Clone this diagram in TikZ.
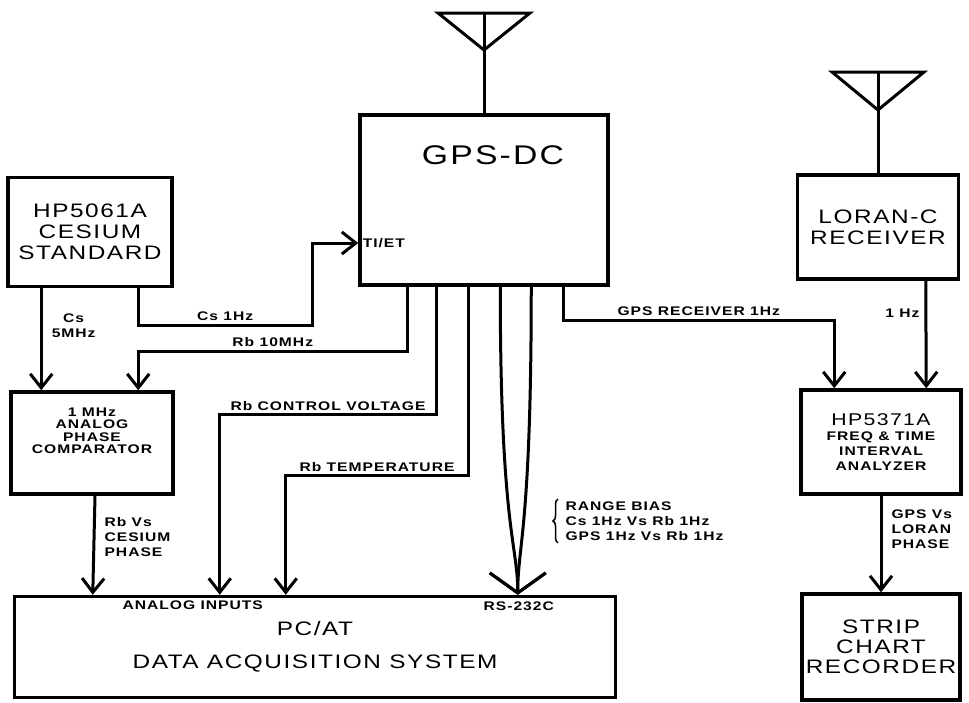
\documentclass[tikz,border=0pt]{standalone}
\usepackage{fontspec}
\setmainfont{Liberation Sans}[FakeStretch=1.25, LetterSpace=8]
\usepackage{tikz}
\usetikzlibrary{arrows.meta,decorations.pathreplacing,positioning}

\begin{document}
\begin{tikzpicture}[x=1pt, y=-1pt, line width=3pt,
    box/.style = {draw, line width=3.5pt, inner sep=0pt, align=center, font=\fontsize{19.5}{21}\selectfont},
    lab/.style = {font=\bfseries\fontsize{12.5}{15}\selectfont, inner sep=1pt, align=left},
    arr/.style = {-{Straight Barb[length=14pt, width=22pt]}},
    bigarr/.style = {-{Straight Barb[length=20pt, width=56pt]}}]
% pixel grid of the scan, y going down
\useasboundingbox (0,0) rectangle (969,702);

    \node[box, minimum width=164pt, minimum height=109pt] (cs) at (90,232) {HP5061A\\CESIUM\\STANDARD};
    \node[box, minimum width=162pt, minimum height=102pt,
          label={[lab, align=center, font=\bfseries\fontsize{12.5}{12.5}\selectfont, yshift=12pt]center:{1 MHz\\ANALOG\\PHASE\\COMPARATOR}}] (comp) at (92,443) {};
    \node[box, minimum width=248pt, minimum height=170pt,
          label={[font=\fontsize{27}{28}\selectfont, xshift=9pt, yshift=45pt]center:GPS-DC}] (gps) at (484,200) {};
    \node[box, minimum width=161pt, minimum height=104pt] (loran) at (878,227) {LORAN-C\\RECEIVER};
    \node[box, minimum width=160pt, minimum height=104pt, font=\bfseries\fontsize{12.5}{15}\selectfont] (hp) at (881,442)
          {{\mdseries\fontsize{17}{18}\selectfont HP5371A}\\FREQ \& TIME\\INTERVAL\\ANALYZER};
    \node[box, minimum width=158pt, minimum height=106pt, font=\fontsize{19.5}{20}\selectfont] (strip) at (881,647) {STRIP\\CHART\\RECORDER};
    \node[box, minimum width=601pt, minimum height=101pt, font=\fontsize{19.5}{33}\selectfont] (pc) at (315,647) {PC/AT\\DATA ACQUISITION SYSTEM};

    \node[lab, anchor=west] (tiet) at ([xshift=2pt, yshift=-43pt]gps.west) {TI/ET};
    \node[lab] (analog) at ([xshift=180pt, yshift=-10pt]pc.north west) {ANALOG INPUTS};
    \node[lab] (rs) at ([xshift=506pt, yshift=-11pt]pc.north west) {RS-232C};
    \node[lab, anchor=west] (bias) at (563,521) {RANGE BIAS\\Cs 1Hz Vs Rb 1Hz\\GPS 1Hz Vs Rb 1Hz};

    \coordinate (gpsant) at (484,13);
    \coordinate (loranant) at (878,72);

\draw ([xshift=-46pt]gpsant) -- ([xshift=46pt]gpsant) -- ([yshift=-37pt]gpsant) -- cycle;
\draw (gpsant) -- (gps.north);
\draw ([xshift=-46pt]loranant) -- ([xshift=46pt]loranant) -- ([yshift=-38pt]loranant) -- cycle;
\draw (loranant) -- (loran.north);

\draw[arr] ([xshift=35pt]cs.south west) -- ([xshift=32pt]comp.north west) node[lab, pos=0.37, right=8pt, align=center] {Cs\\5MHz};
\draw[arr] ([xshift=132pt]cs.south west) -- ++(0,37) -- ++(174,0) node[lab, midway, above=2pt] {Cs 1Hz} |- ([yshift=-43pt]gps.west);
\draw[arr] ([xshift=49pt]gps.south west) |- ([xshift=129pt, yshift=39pt]comp.north west) node[lab, pos=0.75, above=2pt] {Rb 10MHz} -- ([xshift=129pt]comp.north west);
\draw[arr] ([xshift=78pt]gps.south west) |- ([xshift=207pt, yshift=180pt]pc.north west) node[lab, pos=0.75, above=2pt] {Rb CONTROL VOLTAGE} -- ([xshift=207pt]pc.north west);
\draw[arr] ([xshift=110pt]gps.south west) |- ([xshift=273pt, yshift=119pt]pc.north west) node[lab, pos=0.75, above=2pt] {Rb TEMPERATURE} -- ([xshift=273pt]pc.north west);
\draw[bigarr] ([xshift=142pt]gps.south west) .. controls +(0,240) and +(0,-50) .. ([xshift=505pt]pc.north west);
\draw[bigarr] ([xshift=173pt]gps.south west) .. controls +(0,240) and +(0,-50) .. ([xshift=505pt]pc.north west);
\draw[decorate, decoration={brace, amplitude=5pt}, line width=1.5pt] ([xshift=-5pt]bias.south west) -- ([xshift=-5pt]bias.north west);
\draw[arr] ([xshift=205pt]gps.south west) |- ([xshift=35pt, yshift=68pt]hp.north west) node[lab, pos=0.75, above=2pt] {GPS RECEIVER 1Hz} -- ([xshift=35pt]hp.north west);
\draw[arr] ([xshift=130pt]loran.south west) -- ([xshift=127pt]hp.north west) node[lab, pos=0.3, left=4pt] {1 Hz};
\draw[arr] (hp.south) -- (strip.north) node[lab, pos=0.35, right=8pt] {GPS Vs\\LORAN\\PHASE};
\draw[arr] ([xshift=3pt]comp.south) -- ([xshift=80pt]pc.north west) node[lab, pos=0.42, right=8pt] {Rb Vs\\CESIUM\\PHASE};
\end{tikzpicture}
\end{document}
